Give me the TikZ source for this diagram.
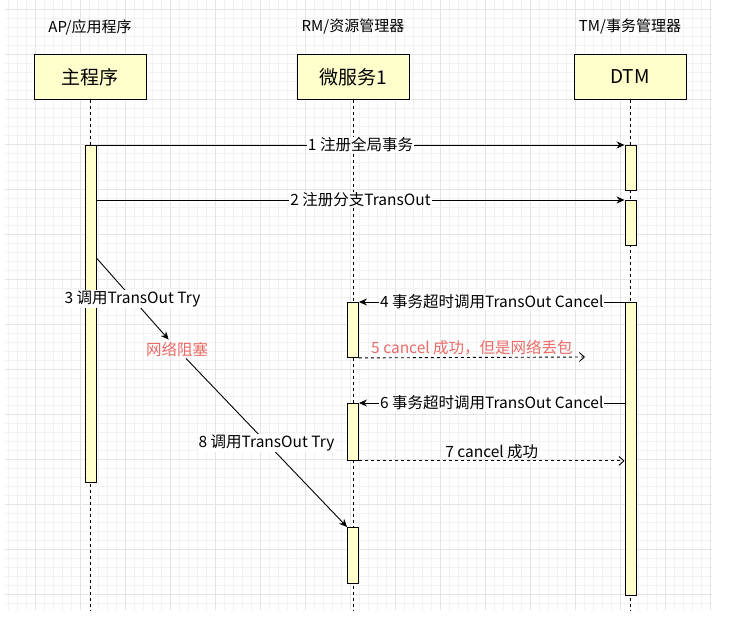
\documentclass[tikz,border=0pt]{standalone}
\usepackage{fontspec}
\setmainfont{Noto Sans CJK SC}
\usetikzlibrary{arrows.meta}

\definecolor{boxfill}{HTML}{FFFFCC}
\definecolor{warn}{HTML}{EA6B66}
\definecolor{gridmajor}{HTML}{E4E4E4}
\definecolor{gridminor}{HTML}{F2F2F2}

\begin{document}
\begin{tikzpicture}[
    x=1pt, y=-1pt,
    role/.style={font=\fontsize{15}{17}\selectfont},
    actor/.style={draw=black, fill=boxfill, line width=0.9pt, minimum width=112pt, minimum height=45pt, font=\fontsize{19}{22}\selectfont},
    bar/.style={draw=black, fill=boxfill, line width=0.9pt, minimum width=11pt, inner sep=0pt, anchor=north},
    life/.style={dash pattern=on 3pt off 3pt, line width=0.8pt},
    msg/.style={-{Stealth[length=8pt, width=7pt]}, line width=0.9pt}, % call arrows
    reply/.style={-{Straight Barb[length=5pt, width=9pt]}, dash pattern=on 3pt off 3pt, line width=0.9pt},
    msglbl/.style={fill=white, inner sep=1pt, font=\fontsize{15.5}{18}\selectfont},
    replylbl/.style={above=1pt, inner sep=1pt, font=\fontsize{15.5}{18}\selectfont},
    blocked/.style={text=warn, inner sep=2pt, font=\fontsize{15.5}{18}\selectfont}
]

\fill[white] (0,0) rectangle (732,629);
\useasboundingbox (0,0) rectangle (732,629);

% grid
\foreach \gx in {8,17,...,710} \draw[gridminor, line width=0.6pt] (\gx,0) -- (\gx,610);
\foreach \gy in {9,18,...,603} \draw[gridminor, line width=0.6pt] (5,\gy) -- (712,\gy);
\foreach \gx in {35,80,...,710} \draw[gridmajor, line width=0.7pt] (\gx,0) -- (\gx,610);
\foreach \gy in {9,54,...,594} \draw[gridmajor, line width=0.7pt] (5,\gy) -- (712,\gy);

\node[role] (aplbl) at (90,27) {AP/应用程序};
\node[role] (rmlbl) at (353,27) {RM/资源管理器};
\node[role] (tmlbl) at (630,27) {TM/事务管理器};

\node[actor] (ap) at (90,77) {主程序};
\node[actor] (rm) at (353,77) {微服务1};
\node[actor] (tm) at (630,77) {DTM};

\coordinate (apend) at (90,610);
\coordinate (rmend) at (353,610);
\coordinate (tmend) at (630,610);
\draw[life] (ap) -- (apend);
\draw[life] (rm) -- (rmend);
\draw[life] (tm) -- (tmend);

\node[bar, minimum height=337pt] (apbar) at (90.5,145) {};
\node[bar, minimum height=45pt] (tm1) at (630.5,145) {};
\node[bar, minimum height=45pt] (tm2) at (630.5,200) {};
\node[bar, minimum height=293pt] (tm3) at (630.5,302) {};
\node[bar, minimum height=55pt] (rm1) at (353,302) {};
\node[bar, minimum height=57pt] (rm2) at (353,403) {};
\node[bar, minimum height=56pt] (rm3) at (353,527) {};

\node[blocked] (block) at (177,349) {网络阻塞};
\coordinate (trystart) at (apbar.east |- 0,258);
\coordinate (lost) at (585,357);

\draw[msg] (apbar.north east) -- node[msglbl] {1 注册全局事务} (tm1.north west);
\draw[msg] (apbar.east |- tm2.north) -- node[msglbl] {2 注册分支TransOut} (tm2.north west);
\draw[msg] (trystart) -- node[msglbl] {3 调用TransOut Try} (block);
\draw[msg] (tm3.north west) -- node[msglbl] {4 事务超时调用TransOut Cancel} (rm1.north east);
\draw[reply] (rm1.south east) -- node[replylbl, text=warn] {5 cancel 成功，但是网络丢包} (lost);
\draw[msg] (tm3.west |- rm2.north) -- node[msglbl] {6 事务超时调用TransOut Cancel} (rm2.north east);
\draw[reply] (rm2.south east) -- node[replylbl] {7 cancel 成功} (tm3.west |- rm2.south);
\draw[msg] (block) -- node[msglbl] {8 调用TransOut Try} (rm3.north west);

\end{tikzpicture}
\end{document}
